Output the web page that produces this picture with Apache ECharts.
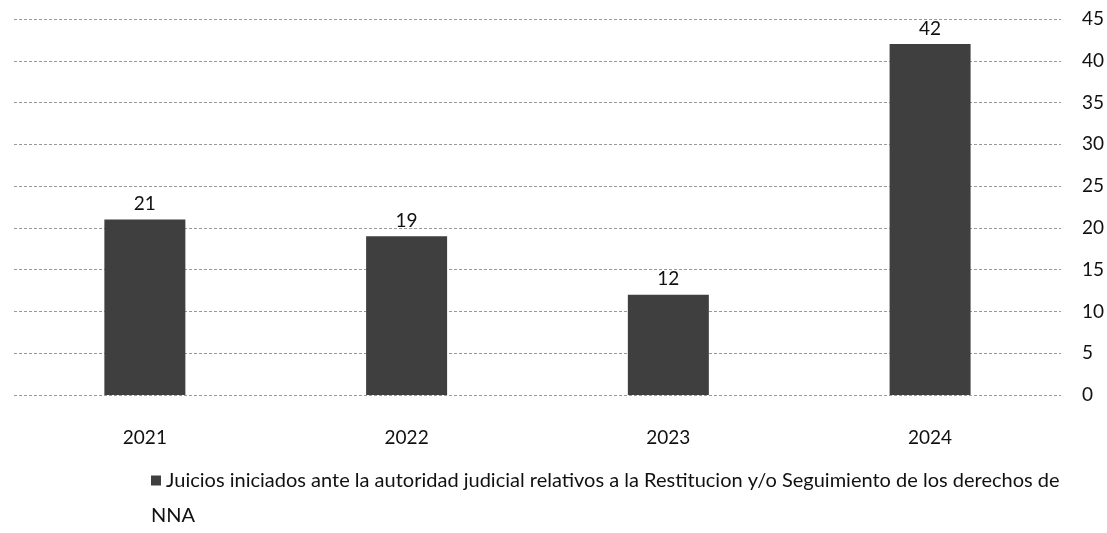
<!DOCTYPE html>
<html>
<head>
<meta charset="utf-8">
<script src="https://cdn.jsdelivr.net/npm/echarts@6/dist/echarts.min.js"></script>
<style>
  html, body { margin: 0; padding: 0; background: #fff; }
  #main { width: 1107px; height: 533px; }
</style>
</head>
<body>
<div id="main"></div>
<script>
// datos
var years = ['2021', '2022', '2023', '2024'];
var juicios = [21, 19, 12, 42];
var serieNombre = 'Juicios iniciados ante la autoridad judicial relativos a la Restitucion y/o Seguimiento de los derechos de NNA';

var chart = echarts.init(document.getElementById('main'));
var option = {
  backgroundColor: '#fff',
  textStyle: { fontFamily: 'Lato, "Noto Sans", sans-serif' },
  grid: { left: 14, right: 43, top: 19, bottom: 138 },
  legend: {
    left: 141,
    top: 458,
    icon: 'none',
    itemWidth: 0,
    itemHeight: 10,
    // el cuadrito va dentro del texto para que "NNA" quede debajo de el
    formatter: function (name) {
      return '{sq|}' + ' ' + name;
    },
    textStyle: {
      fontSize: 20,
      color: '#111',
      width: 922,
      overflow: 'break',
      lineHeight: 35,
      rich: {
        sq: { width: 10, height: 10, backgroundColor: '#3f3f3f' }
      }
    },
    data: [serieNombre]
  },
  xAxis: {
    type: 'category',
    data: years,
    axisLine: { show: false },
    axisTick: { show: false },
    axisLabel: { fontSize: 19, color: '#111', margin: 33 }
  },
  yAxis: {
    type: 'value',
    position: 'right',
    min: 0,
    max: 45,
    interval: 5,
    axisLine: { show: false },
    axisTick: { show: false },
    axisLabel: { fontSize: 19, color: '#111', margin: 21, align: 'left' },
    splitLine: { lineStyle: { color: '#999', type: [3, 2], width: 1 } }
  },
  series: [{
    name: serieNombre,
    type: 'bar',
    data: juicios,
    barWidth: 81,
    itemStyle: { color: '#3f3f3f' },
    label: { show: true, position: 'top', fontSize: 19, color: '#111', distance: 6 }
  }]
};
chart.setOption(option);
</script>
</body>
</html>
